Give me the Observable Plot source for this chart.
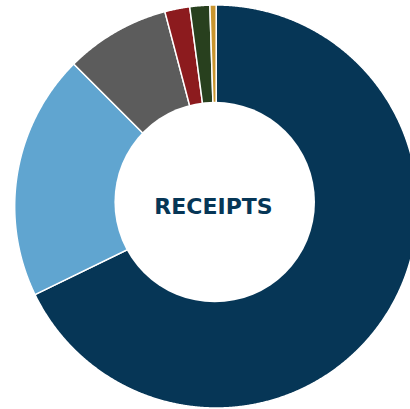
<!DOCTYPE html>
<html>
<head>
<meta charset="utf-8">
<script src="https://cdn.jsdelivr.net/npm/d3@7"></script>
<script src="https://cdn.jsdelivr.net/npm/@observablehq/plot@0.6"></script>
<style>
  html, body { margin: 0; padding: 0; background: #fff; }
  #chart { width: 410px; height: 409px; overflow: hidden; }
</style>
</head>
<body>
<div id="chart"></div>
<script>
// Data
const categories = ["Segment A", "Segment B", "Segment C", "Segment D", "Segment E", "Segment F"];
const values = [67.8, 19.7, 8.4, 2.0, 1.6, 0.5];
const colors = ["#063656", "#60a5d0", "#5c5c5c", "#8c1b1e", "#28401e", "#c9952f"];
const centerLabel = ["RECEIPTS"];

const rows = categories.map((name, i) => ({name, value: values[i]}));

// Build wedge outlines from d3.pie angles (data driven)
const outerR = 201.5;
const arcs = d3.pie().sort(null).value(d => d.value)(rows);
const pts = [];
for (const a of arcs) {
  const name = a.data.name;
  pts.push({name, x: 0, y: 0});
  const step = Math.PI / 720;
  for (let t = a.startAngle; t < a.endAngle; t += step) {
    pts.push({name, x: outerR * Math.sin(t), y: outerR * Math.cos(t)});
  }
  pts.push({name, x: outerR * Math.sin(a.endAngle), y: outerR * Math.cos(a.endAngle)});
}

const hole = [{x: -1.5, y: 4.5}];

const chart = Plot.plot({
  width: 410,
  height: 409,
  margin: 0,
  x: {domain: [-215.7, 194.3], axis: null},
  y: {domain: [-203, 206], axis: null},
  color: {domain: categories, range: colors},
  marks: [
    Plot.line(pts, {x: "x", y: "y", z: "name", fill: "name", stroke: "white", strokeWidth: 1.5, curve: "linear-closed"}),
    Plot.dot(hole, {x: "x", y: "y", r: 100.3, fill: "white", stroke: "none"}),
    Plot.text(centerLabel, {x: () => -2.7, y: () => 0, text: d => d, fill: "#063656",
      fontSize: 22, fontWeight: "bold", fontFamily: "DejaVu Sans", letterSpacing: 0.3})
  ],
  style: {background: "white"}
});
document.getElementById("chart").appendChild(chart);
</script>
</body>
</html>
